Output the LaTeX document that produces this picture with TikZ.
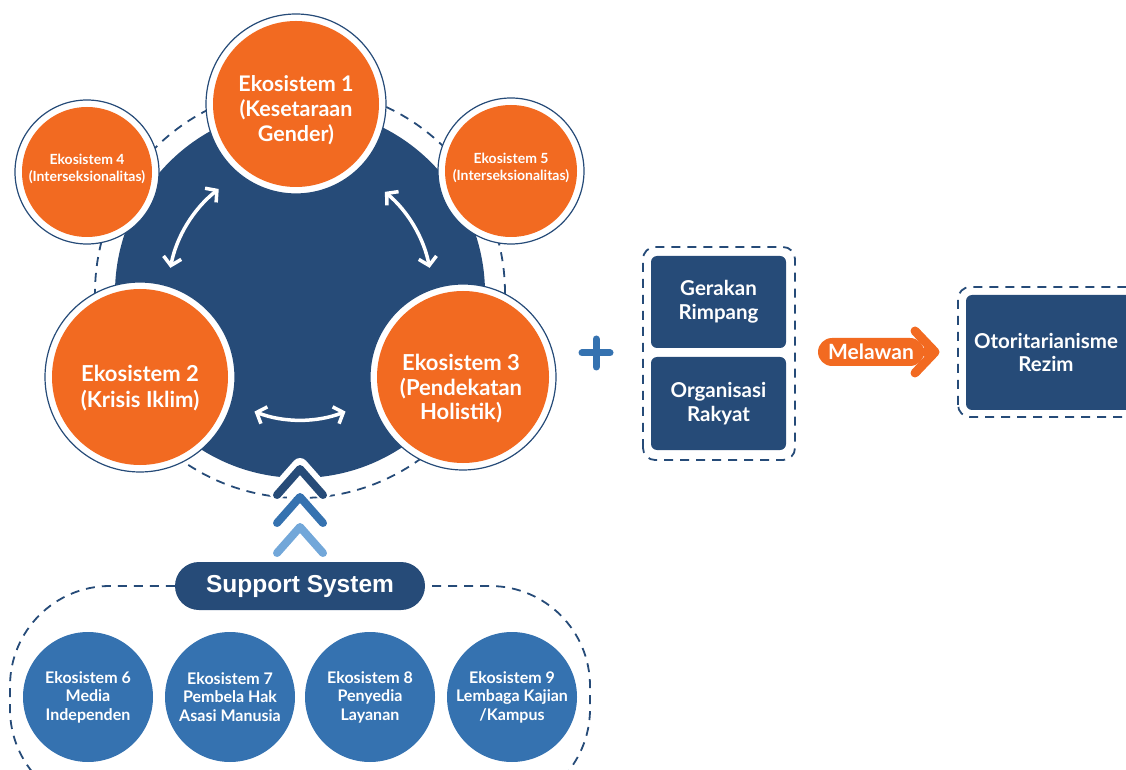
\documentclass[tikz,border=0pt]{standalone}
\usepackage{fontspec}
\setmainfont{Lato}
\newfontfamily\ssfont{Liberation Sans}
\usetikzlibrary{arrows.meta,calc}
\definecolor{navy}{HTML}{264B78}
\definecolor{orng}{HTML}{F26A21}
\definecolor{midblue}{HTML}{3572B0}
\definecolor{lightblue}{HTML}{72A7D9}
\tikzset{
  dashline/.style={draw=navy, line width=1.8pt, dash pattern=on 9pt off 7pt},
  ringout/.style={draw=navy, line width=1.2pt, fill=white},
  otext/.style={text=white, align=center, inner sep=0pt},
  bcirc/.style={circle, fill=midblue, text=white, align=center, inner sep=0pt, minimum size=130pt, font=\bfseries\fontsize{16}{18.5}\selectfont},
  nbox/.style={rectangle, rounded corners=6pt, fill=navy, text=white, align=center, font=\bfseries\fontsize{20.5}{24}\selectfont},
  warrow/.style={draw=white, line width=3.5pt, {Straight Barb[length=8pt,width=18pt]}-{Straight Barb[length=8pt,width=18pt]}},
  chev/.style={line width=8pt, line cap=round, line join=round},
}
\begin{document}
\begin{tikzpicture}[x=1pt,y=1pt]
\useasboundingbox (0,0) rectangle (1126,769);
\clip (0,0) rectangle (1126,769);
\coordinate (C) at (300,476);
% outer dashed circle and navy disc
\draw[dashline] (C) circle (205);
\fill[navy] (C) circle (185);
% arrows between main ecosystems
\draw[warrow] ($(C)+(128:132)$) arc[start angle=128, end angle=169, radius=132];
\draw[warrow] ($(C)+(50:132)$) arc[start angle=50, end angle=11, radius=132];
\draw[warrow] ($(C)+(249:127)$) arc[start angle=249, end angle=291, radius=127];
% orange circles
\draw[ringout] (296,665) circle (90);
\fill[orng] (296,665) circle (83);
\node[otext, font=\bfseries\fontsize{21.5}{25}\selectfont] (e1) at (296,659) {Ekosistem 1\\(Kesetaraan\\Gender)};
\draw[ringout] (87,597) circle (72);
\fill[orng] (87,597) circle (65);
\node[otext, font=\bfseries\fontsize{14}{17.5}\selectfont] (e4) at (87,600) {Ekosistem 4\\(Interseksionalitas)};
\draw[ringout] (511,598) circle (73);
\fill[orng] (511,598) circle (66);
\node[otext, font=\bfseries\fontsize{14}{17.5}\selectfont] (e5) at (511,601) {Ekosistem 5\\(Interseksionalitas)};
\draw[ringout] (140,392) circle (95);
\fill[orng] (140,392) circle (88);
\node[otext, font=\bfseries\fontsize{22}{26}\selectfont] (e2) at (140,381) {Ekosistem 2\\(Krisis Iklim)};
\draw[ringout] (463,392) circle (93);
\fill[orng] (463,392) circle (86);
\node[otext, font=\bfseries\fontsize{22}{24.5}\selectfont] (e3) at (461,380) {Ekosistem 3\\(Pendekatan\\Holistik)};
% chevrons
\draw[chev, white, line width=16pt] (277,277) -- (300,303) -- (323,277);
\draw[chev, navy] (277,274) -- (300,300) -- (323,274);
\draw[chev, midblue] (277,246) -- (300,272) -- (323,246);
\draw[chev, lightblue] (277,216) -- (300,242) -- (323,216);
% support system
\node[rectangle, rounded corners=24pt, fill=navy, text=white, minimum width=250pt, minimum height=48pt, font=\ssfont\bfseries\fontsize{24.5}{26}\selectfont] (ss) at (300,183) {Support System};
\draw[dashline] (ss.west) -- (110,183) arc[start angle=90, end angle=180, radius=100] -- (10,60) arc[start angle=180, end angle=270, radius=100] -- (490,-40) arc[start angle=-90, end angle=0, radius=100] -- (590,83) arc[start angle=0, end angle=90, radius=100] -- (ss.east);
\node[bcirc] (e6) at (88,72) {Ekosistem 6\\Media\\Independen};
\node[bcirc] (e7) at (230,72) {Ekosistem 7\\Pembela Hak\\Asasi Manusia};
\node[bcirc] (e8) at (370,72) {Ekosistem 8\\Penyedia\\Layanan};
\node[bcirc] (e9) at (512,72) {Ekosistem 9\\Lembaga Kajian\\/Kampus};
% plus
\draw[midblue, line width=7pt, line cap=round] (582,416) -- (610,416) (596,402) -- (596,430);
% movement boxes
\draw[dashline, rounded corners=12pt] (643,309) rectangle (795,522);
\node[nbox, minimum width=135pt, minimum height=92pt] (gr) at (718.5,467) {Gerakan\\Rimpang};
\node[nbox, minimum width=135pt, minimum height=93pt] (or) at (718.5,365.5) {Organisasi\\Rakyat};
% melawan arrow
\node[rectangle, rounded corners=14pt, fill=orng, text=white, minimum width=106pt, minimum height=28pt, inner sep=0pt, font=\bfseries\fontsize{21}{22}\selectfont] (mel) at (871,417) {Melawan};
\coordinate (tip) at (935,417);
\draw[orng, line width=9pt, line cap=round, line join=round] (mel.east) -- (tip) (915,438) -- (tip) -- (915,396);
% regime
\draw[dashline, rounded corners=12pt] (958,352) rectangle (1140,482);
\node[nbox, minimum width=175pt, minimum height=115pt] (rz) at (1053.5,416.5) {};
\node[text=white, align=center, font=\bfseries\fontsize{20.5}{23}\selectfont] (rzt) at (1046,417) {Otoritarianisme\\Rezim};
\end{tikzpicture}
\end{document}
